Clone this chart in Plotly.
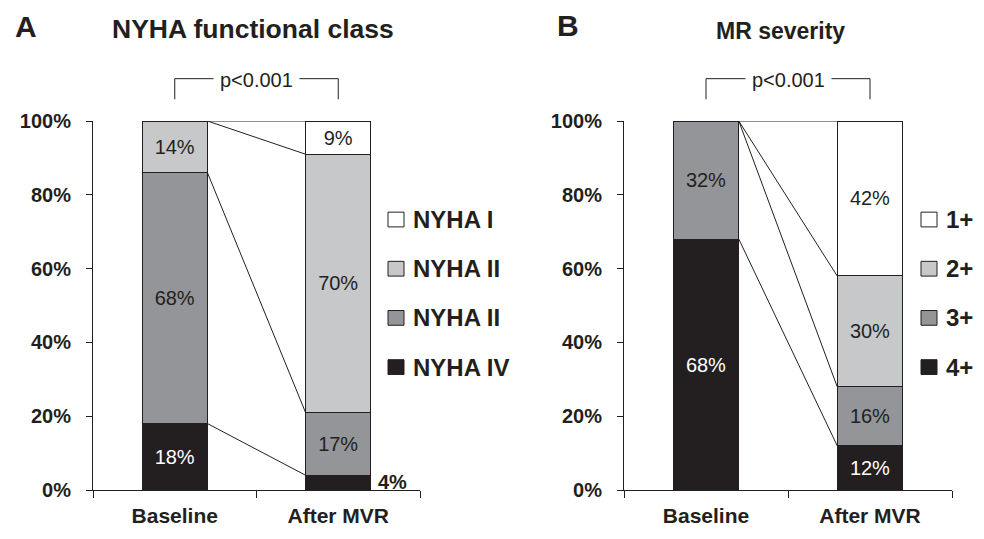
import plotly.graph_objects as go

# ---------------- data ----------------
categories = ["Baseline", "After MVR"]

nyha_names = ["NYHA IV", "NYHA II", "NYHA II", "NYHA I"]      # bottom -> top (legend text as printed)
nyha_baseline = [18, 68, 14, 0]
nyha_after = [4, 17, 70, 9]

mr_names = ["4+", "3+", "2+", "1+"]                              # bottom -> top
mr_baseline = [68, 32, 0, 0]
mr_after = [12, 16, 30, 42]

y_ticks = [0, 20, 40, 60, 80, 100]
y_ticklabels = [f"{v}%" for v in y_ticks]
p_text = "p<0.001"

# ---------------- style ----------------
FONT = "Liberation Sans, Arial, sans-serif"
DARK = "#231f20"
fills = ["#231f20", "#939598", "#c7c8ca", "#ffffff"]
text_cols = ["#ffffff", DARK, DARK, DARK]
BAR_W = 0.4
MIN_INSIDE = 8
PW, PH = 859, 375   # plot-area pixel size used for paper offsets

fig = go.Figure()

def add_panel(names, base, after, xa, ya):
    for i, nm in enumerate(names):
        vals = [base[i], after[i]]
        txt = [f"{v}%" if v >= MIN_INSIDE else "" for v in vals]
        fig.add_trace(go.Bar(
            x=categories, y=vals, name=nm, text=txt,
            textposition="inside", insidetextanchor="middle",
            textangle=0, constraintext="none",
            textfont=dict(family=FONT, size=20, color=text_cols[i]),
            marker=dict(color=fills[i], line=dict(color=DARK, width=1)),
            width=BAR_W, xaxis=xa, yaxis=ya, showlegend=False,
            hoverinfo="skip"))
        # small values labelled outside, to the right of the bar
        for j, v in enumerate(vals):
            if 0 < v < MIN_INSIDE:
                fig.add_annotation(
                    x=j, y=sum((base if j == 0 else after)[:i]) + v / 2,
                    xref=xa, yref=ya, text=f"<b>{v}%</b>", showarrow=False,
                    xanchor="left", yanchor="middle",
                    xshift=BAR_W / 2 * 163 + 5, yshift=1,
                    font=dict(family=FONT, size=20, color=DARK))
    # connector lines between cumulative tops
    cb = 0
    ca = 0
    for i in range(len(names)):
        cb += base[i]
        ca += after[i]
        fig.add_shape(type="line", xref=xa, yref=ya,
                      x0=0 + BAR_W / 2, y0=cb, x1=1 - BAR_W / 2, y1=ca,
                      line=dict(color=DARK, width=1), layer="above")

add_panel(nyha_names, nyha_baseline, nyha_after, "x", "y")
add_panel(mr_names, mr_baseline, mr_after, "x2", "y2")

# p-value brackets
for xa in ["x", "x2"]:
    fig.add_shape(type="path", xref=xa, yref="paper",
                  path="M 0,1.0587 L 0,1.1147 L 1,1.1147 L 1,1.0587",
                  line=dict(color=DARK, width=1))
    fig.add_annotation(x=0.5, y=1.1147, xref=xa, yref="paper", text=p_text,
                       showarrow=False, bgcolor="white", borderpad=6,
                       xanchor="center", yanchor="middle", yshift=-1,
                       font=dict(family=FONT, size=20, color=DARK))

# custom legends
def add_legend(names, x_box, y_top, step=0.1333):
    n = len(names)
    for k, i in enumerate(range(n - 1, -1, -1)):
        yc = y_top - k * step
        h = 7.5 / PH
        fig.add_shape(type="rect", xref="paper", yref="paper",
                      x0=x_box, x1=x_box + 16 / PW, y0=yc - h, y1=yc + h,
                      fillcolor=fills[i], line=dict(color=DARK, width=1))
        fig.add_annotation(x=x_box + 23 / PW, y=yc, xref="paper", yref="paper",
                           text=f"<b>{names[i]}</b>", showarrow=False,
                           xanchor="left", yanchor="middle", yshift=0,
                           font=dict(family=FONT, size=24, color=DARK))

add_legend(nyha_names, (388 - 93) / PW, 0.733)
add_legend(mr_names, (921 - 93) / PW, 0.733)

# panel letters & titles
titles = [
    dict(x=(13 - 93) / PW, y=1.255, text="<b>A</b>", size=30, xanchor="left"),
    dict(x=(253 - 93) / PW, y=1.248, text="<b>NYHA functional class</b>", size=26.5, xanchor="center"),
    dict(x=(555 - 93) / PW, y=1.258, text="<b>B</b>", size=30, xanchor="left"),
    dict(x=(780 - 93) / PW, y=1.245, text="<b>MR severity</b>", size=23, xanchor="center"),
]
for t in titles:
    fig.add_annotation(x=t["x"], y=t["y"], xref="paper", yref="paper",
                       text=t["text"], showarrow=False, xanchor=t["xanchor"],
                       yanchor="middle", font=dict(family=FONT, size=t["size"], color=DARK))

xaxis_common = dict(type="category", tickson="boundaries", ticks="outside",
                    ticklen=7, tickwidth=1, tickcolor=DARK, showline=True,
                    linecolor=DARK, linewidth=1, showgrid=False, zeroline=False,
                    ticklabelstandoff=7,
                    tickfont=dict(family=FONT, size=21, color=DARK, weight="bold"),
                    fixedrange=True)
yaxis_common = dict(range=[0, 100], tickmode="array", tickvals=y_ticks,
                    ticktext=y_ticklabels,
                    ticks="outside", ticklen=6, tickwidth=1, tickcolor=DARK,
                    showline=True, linecolor=DARK, linewidth=1, showgrid=False,
                    zeroline=False, ticklabelstandoff=11,
                    tickfont=dict(family=FONT, size=20, color=DARK, weight="bold"),
                    fixedrange=True)

fig.update_layout(
    width=984, height=539,
    margin=dict(l=93, r=32, t=121, b=43),
    paper_bgcolor="white", plot_bgcolor="white",
    barmode="stack", bargap=0.6,
    showlegend=False,
    xaxis=dict(domain=[0, 327 / PW], anchor="y", **xaxis_common),
    yaxis=dict(domain=[0, 1], anchor="x", **yaxis_common),
    xaxis2=dict(domain=[531 / PW, 1], anchor="y2", **xaxis_common),
    yaxis2=dict(domain=[0, 1], anchor="x2", **yaxis_common),
    font=dict(family=FONT, color=DARK),
)

# remove the default page margin so the figure sits at the window origin
fig.write_html("out.html", config={"displayModeBar": False},
               post_script="document.body.style.margin='0';document.body.style.overflow='hidden';")
